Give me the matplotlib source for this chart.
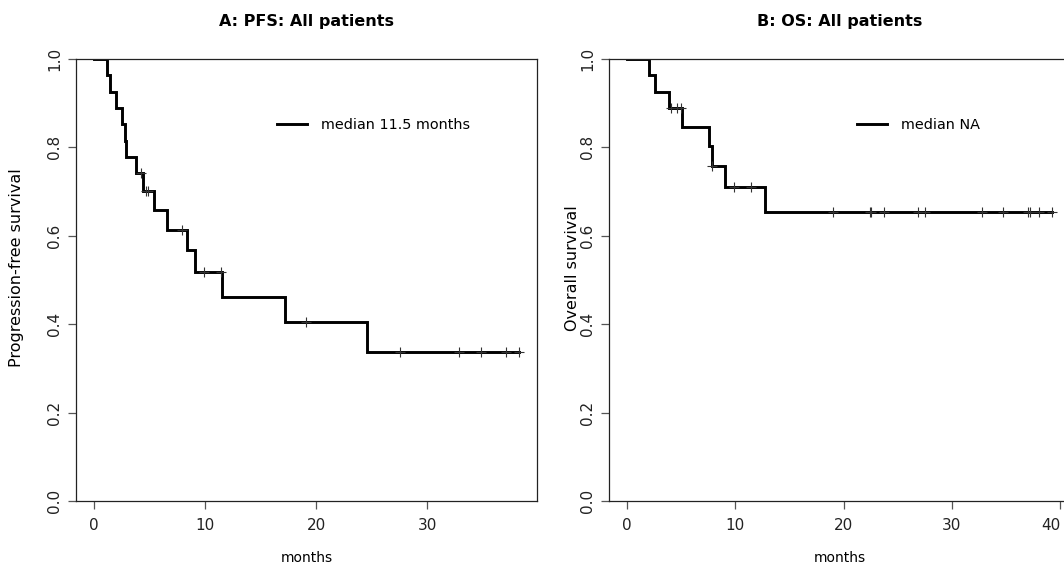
import numpy as np
import matplotlib
matplotlib.use("Agg")
import matplotlib.pyplot as plt

# ---- Data ----
pfs_times = [0, 1.2, 1.4, 2.0, 2.55, 2.75, 2.9, 3.8, 4.45, 5.4, 6.6, 8.35, 9.1, 11.55, 17.2, 24.6]
pfs_surv = [1.0, 0.963, 0.926, 0.889, 0.852, 0.815, 0.778, 0.741, 0.702, 0.658, 0.614, 0.567, 0.519, 0.462, 0.404, 0.337]
pfs_censor = [4.2, 4.65, 4.9, 7.95, 9.9, 11.4, 19.1, 27.6, 32.9, 34.9, 37.1, 38.3]
pfs_end = 38.3

os_times = [0, 2.0, 2.6, 3.9, 5.05, 7.6, 7.8, 9.05, 12.75]
os_surv = [1.0, 0.963, 0.926, 0.889, 0.847, 0.804, 0.758, 0.711, 0.653]
os_censor = [4.1, 4.6, 5.0, 7.85, 9.9, 11.4, 19.0, 22.4, 22.5, 23.7, 26.9, 27.5,
             32.8, 34.7, 37.0, 37.2, 38.0, 39.2]
os_end = 39.2

pfs_xticks = [0, 10, 20, 30]
os_xticks = [0, 10, 20, 30, 40]
yticks = [0.0, 0.2, 0.4, 0.6, 0.8, 1.0]
ytick_labels = ["0.0", "0.2", "0.4", "0.6", "0.8", "1.0"]

titles = ["A: PFS: All patients", "B: OS: All patients"]
ylabels = ["Progression-free survival", "Overall survival"]
legend_labels = ["median 11.5 months", "median NA"]

W, H = 1064, 571
fig = plt.figure(figsize=(W / 100, H / 100), dpi=100)
plt.rcParams['font.family'] = ['DejaVu Sans']

def px_axes(x0, y0, x1, y1):
    return fig.add_axes([x0 / W, 1 - y1 / H, (x1 - x0) / W, (y1 - y0) / H])

axA = px_axes(76, 59, 537, 501)
axB = px_axes(609, 59, 1070, 501)

def step_value(times, surv, t):
    idx = np.searchsorted(times, t, side='right') - 1
    return np.asarray(surv)[idx]

panels = [
    (axA, pfs_times, pfs_surv, pfs_censor, pfs_end, (-1.62, 39.9), 0.436, pfs_xticks),
    (axB, os_times, os_surv, os_censor, os_end, (-1.67, 40.9), 0.538, os_xticks),
]

for i, (ax, t, s, cen, tend, xlim, legx, xt) in enumerate(panels):
    tt = list(t) + [tend]
    ss = list(s) + [s[-1]]
    ax.step(tt, ss, where='post', color='black', lw=2.1, label=legend_labels[i],
            solid_joinstyle='miter')
    cy = step_value(t, s, cen)
    ax.plot(cen, cy, linestyle='none', marker='+', markersize=7,
            markeredgewidth=0.8, color='#333333')
    ax.set_xlim(*xlim)
    ax.set_ylim(0, 1)
    ax.set_xticks(xt)
    ax.set_yticks(yticks)
    ax.set_yticklabels(ytick_labels, rotation=90, va='center')
    ax.tick_params(axis='both', length=6, width=0.9, color='#555555',
                   labelsize=11, labelcolor='#222222')
    ax.tick_params(axis='x', pad=6)
    ax.tick_params(axis='y', pad=4)
    for sp in ax.spines.values():
        sp.set_linewidth(0.9)
        sp.set_color('#222222')
    ax.set_title(titles[i], fontsize=11.5, fontweight='bold', pad=24)
    ax.set_xlabel('months', fontsize=10, va='center')
    ax.xaxis.set_label_coords(0.5, -0.13)
    ax.set_ylabel(ylabels[i], fontsize=11.5, va='center')
    ax.yaxis.set_label_coords(-0.128 if i == 0 else -0.08, 0.527)
    ax.legend(loc='center left', bbox_to_anchor=(legx, 0.851), frameon=False,
              fontsize=10.4, handlelength=2.05, handletextpad=1.0,
              borderpad=0, borderaxespad=0)

# keep the last tick label of panel B inside the picture, as in the reference
lbls = axB.get_xticklabels()
lbls[-1].set_horizontalalignment('right')

fig.savefig('out.png', dpi=100)
